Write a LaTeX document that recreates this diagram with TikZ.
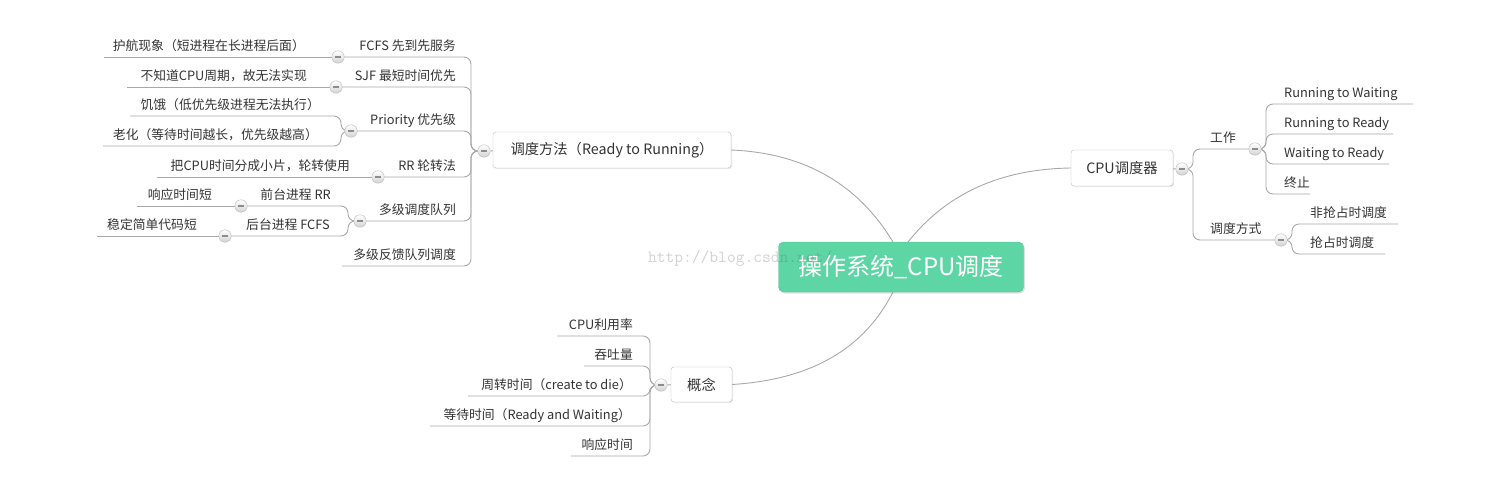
\documentclass[tikz,border=0pt]{standalone}
\usepackage{fontspec}
\setmainfont{Noto Sans CJK SC}
\usetikzlibrary{shadows}
\pgfdeclarelayer{background}
\pgfdeclarelayer{front}
\pgfsetlayers{background,main,front}
\definecolor{linec}{HTML}{A8A8A8}
\definecolor{txt}{HTML}{333333}
\definecolor{cgreen}{HTML}{5ED5A4}
\definecolor{boxb}{HTML}{BBBBBB}
\definecolor{wmc}{HTML}{6A6A6A}
\begin{document}
\begin{tikzpicture}[x=1pt,y=-1pt,
  conn/.style={draw=linec, line width=0.9pt, rounded corners=7pt},
  curve/.style={draw=linec, line width=0.9pt},
  leafL/.style={anchor=base east, inner sep=0pt, text=txt, font=\fontsize{12.8}{14}\selectfont},
  leafR/.style={anchor=base west, inner sep=0pt, text=txt, font=\fontsize{12.8}{14}\selectfont},
  topic/.style={draw=boxb, fill=white, rounded corners=3pt, text=txt,
    font=\fontsize{14.3}{16}\selectfont, inner sep=0pt,
    drop shadow={opacity=0.18, shadow xshift=1pt, shadow yshift=-1pt}},
  central/.style={draw=cgreen!92!black, fill=cgreen, rounded corners=5pt, text=white,
    font=\fontsize{24}{27}\selectfont, inner sep=0pt, minimum width=245pt, minimum height=50pt,
    drop shadow={opacity=0.25, shadow xshift=1.5pt, shadow yshift=-1.5pt}},
  btn/.style={circle, minimum size=12.5pt, inner sep=0pt, draw=gray!55, top color=white, bottom color=gray!35,
    path picture={\draw[line width=1.4pt, black!45] ([xshift=-3pt]path picture bounding box.center) -- ([xshift=3pt]path picture bounding box.center);}},
  wm/.style={anchor=base west, inner sep=0pt, text=wmc, text opacity=0.3, font=\ttfamily\fontsize{17}{19}\selectfont}
]
\useasboundingbox (0,0) rectangle (1488,490);

% central and main topics
\node[central] (C) at (901,267) {操作系统\_CPU调度};
\node[topic, minimum width=238pt, minimum height=36pt] (A) at (612,150) {调度方法（Ready to Running）};
\node[topic, minimum width=102pt, minimum height=36pt] (B) at (1122,168) {CPU调度器};
\node[topic, minimum width=61pt, minimum height=35pt] (K) at (701.5,384.5) {概念};

% watermark
\begin{pgfonlayer}{front}
\node[wm] (wm) at (648,262) {http://blog.csdn.net/};
\end{pgfonlayer}

\coordinate (c1) at (893,242);
\coordinate (c2) at (908,242);
\coordinate (c3) at (893,292);

% buttons
\node[btn] (bA) at (484,151) {};
\node[btn] (bB) at (1182,169) {};
\node[btn] (bK) at (661,385) {};
\node[btn] (bF) at (338,57) {};
\node[btn] (bS) at (336,87) {};
\node[btn] (bP) at (351,131) {};
\node[btn] (bR) at (378,177) {};
\node[btn] (bM) at (360,221) {};
\node[btn] (bQ) at (241,206) {};
\node[btn] (bH) at (225,236) {};
\node[btn] (bW) at (1255,149) {};
\node[btn] (bD) at (1281,240) {};

% spines
\coordinate (sA) at (471,151);
\coordinate (sP) at (341,131);
\coordinate (sM) at (348,221);
\coordinate (sB) at (1193,169);
\coordinate (sW) at (1266,149);
\coordinate (sD) at (1292,240);
\coordinate (sK) at (650,385);

% free ends of underlines
\coordinate (lF1) at (104,57);
\coordinate (lS1) at (127,87);
\coordinate (lP1) at (130,116);
\coordinate (lP2) at (103,146);
\coordinate (lR1) at (157,177);
\coordinate (lQ1) at (137,206);
\coordinate (lH1) at (97,236);
\coordinate (lMF) at (342,266);
\coordinate (rW1) at (1413,104);
\coordinate (rW2) at (1393,134);
\coordinate (rW3) at (1389,164);
\coordinate (rW4) at (1310,194);
\coordinate (rD1) at (1398,224);
\coordinate (rD2) at (1385,254);
\coordinate (lK1) at (557,336);
\coordinate (lK2) at (584,366);
\coordinate (lK3) at (468,396);
\coordinate (lK4) at (430,426);
\coordinate (lK5) at (571,456);

% texts
\node[leafL] (tF) at (456,50.5) {FCFS 先到先服务};
\node[leafL] (tF1) at (305,50.5) {护航现象（短进程在长进程后面）};
\node[leafL] (tS) at (456,80.5) {SJF 最短时间优先};
\node[leafL] (tS1) at (307,80.5) {不知道CPU周期，故无法实现};
\node[leafL] (tP) at (456,124.5) {Priority 优先级};
\node[leafL] (tP1) at (320,109.5) {饥饿（低优先级进程无法执行）};
\node[leafL] (tP2) at (318,139.5) {老化（等待时间越长，优先级越高）};
\node[leafL] (tR) at (456,170.5) {RR 轮转法};
\node[leafL] (tR1) at (350,170.5) {把CPU时间分成小片，轮转使用};
\node[leafL] (tM) at (456,214.5) {多级调度队列};
\node[leafL] (tQ) at (331,199.5) {前台进程 RR};
\node[leafL] (tQ1) at (212,199.5) {响应时间短};
\node[leafL] (tH) at (330,229.5) {后台进程 FCFS};
\node[leafL] (tH1) at (197,229.5) {稳定简单代码短};
\node[leafL] (tMF) at (456,259.5) {多级反馈队列调度};

\node[leafR] (tW) at (1210,142.5) {工作};
\node[leafR] (tW1) at (1284,97.5) {Running to Waiting};
\node[leafR] (tW2) at (1284,127.5) {Running to Ready};
\node[leafR] (tW3) at (1284,157.5) {Waiting to Ready};
\node[leafR] (tW4) at (1284,187.5) {终止};
\node[leafR] (tD) at (1210,233.5) {调度方式};
\node[leafR] (tD1) at (1310,217.5) {非抢占时调度};
\node[leafR] (tD2) at (1310,247.5) {抢占时调度};

\node[leafL] (tK1) at (633,329.5) {CPU利用率};
\node[leafL] (tK2) at (633,359.5) {吞吐量};
\node[leafL] (tK3) at (632,389.5) {周转时间（create to die）};
\node[leafL] (tK4) at (631,419.5) {等待时间（Ready and Waiting）};
\node[leafL] (tK5) at (633,449.5) {响应时间};

% connectors, behind everything
\begin{pgfonlayer}{background}
\draw[curve] (A.east) .. controls +(73,3) and +(-35,-58) .. (c1);
\draw[curve] (c2) .. controls +(38,-48) and +(-71,1) .. (B.west);
\draw[curve] (c3) .. controls +(-29,57) and +(79,-5) .. (K.east);
\draw[curve] (A) -- (bA);
\draw[curve] (B) -- (bB);
\draw[curve] (K) -- (bK);
% 调度方法 subtree
\draw[conn] (bA.center) -- (sA) |- (bF.center);
\draw[conn] (bA.center) -- (sA) |- (bS.center);
\draw[conn] (bA.center) -- (sA) |- (bP.center);
\draw[conn] (bA.center) -- (sA) |- (bR.center);
\draw[conn] (bA.center) -- (sA) |- (bM.center);
\draw[conn] (bA.center) -- (sA) |- (lMF);
\draw[conn] (bF.center) -- (lF1);
\draw[conn] (bS.center) -- (lS1);
\draw[conn] (bP.center) -- (sP) |- (lP1);
\draw[conn] (bP.center) -- (sP) |- (lP2);
\draw[conn] (bR.center) -- (lR1);
\draw[conn] (bM.center) -- (sM) |- (bQ.center);
\draw[conn] (bM.center) -- (sM) |- (bH.center);
\draw[conn] (bQ.center) -- (lQ1);
\draw[conn] (bH.center) -- (lH1);
% CPU调度器 subtree
\draw[conn] (bB.center) -- (sB) |- (bW.center);
\draw[conn] (bB.center) -- (sB) |- (bD.center);
\draw[conn] (bW.center) -- (sW) |- (rW1);
\draw[conn] (bW.center) -- (sW) |- (rW2);
\draw[conn] (bW.center) -- (sW) |- (rW3);
\draw[conn] (bW.center) -- (sW) |- (rW4);
\draw[conn] (bD.center) -- (sD) |- (rD1);
\draw[conn] (bD.center) -- (sD) |- (rD2);
% 概念 subtree
\draw[conn] (bK.center) -- (sK) |- (lK1);
\draw[conn] (bK.center) -- (sK) |- (lK2);
\draw[conn] (bK.center) -- (sK) |- (lK3);
\draw[conn] (bK.center) -- (sK) |- (lK4);
\draw[conn] (bK.center) -- (sK) |- (lK5);
\end{pgfonlayer}
\end{tikzpicture}
\end{document}
